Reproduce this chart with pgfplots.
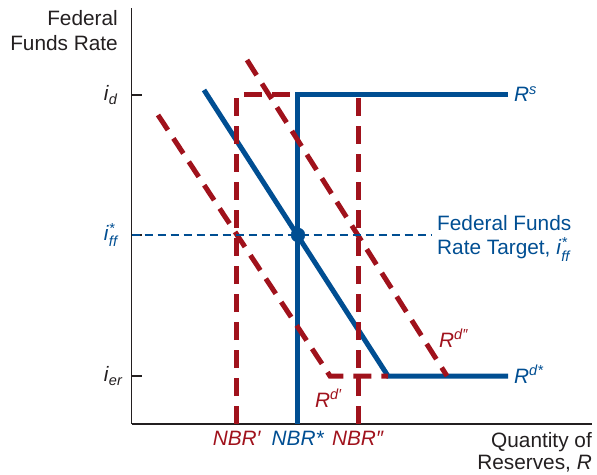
\documentclass[border=0pt]{standalone}
\usepackage{amsmath}
\usepackage{fontspec}
\setmainfont{Liberation Sans}
\usepackage{pgfplots}
\pgfplotsset{compat=1.18}
\definecolor{myblue}{RGB}{0,78,146}
\definecolor{myred}{RGB}{160,18,28}
\definecolor{mytext}{RGB}{35,31,32}
\newcommand\lf{\fontsize{20.8}{24}\selectfont}
\begin{document}
\begin{tikzpicture}
\begin{axis}[
  x=1pt, y=1pt,
  xmin=131.7, xmax=592, ymin=0, ymax=416,
  axis lines=left,
  axis line style={-, line width=1.3pt, color=mytext},
  clip=false,
  tick align=inside,
  major tick length=10.5pt,
  xtick style={draw=none},
  ytick style={line width=1.2pt, color=mytext},
  xtick={237,298,358},
  xticklabels={{\color{myred}\textit{NBR′}},{\color{myblue}\textit{NBR*}},{\color{myred}\textit{NBR″}}},
  xticklabel style={anchor=base, inner sep=0pt, yshift=-21pt, font=\lf},
  ytick={48,189,329},
  yticklabels={{\textit{i}$_{\textit{er}}$},{\color{myblue}\textit{i}$_{\textit{ff}}^{\textit{*}}$},{\textit{i}$_{\textit{d}}$}},
  yticklabel style={anchor=west, inner sep=0pt, xshift=-28pt, font=\lf, color=mytext},
]
% bounding frame of the figure
\path (axis cs:0,-50) rectangle (axis cs:597,424);
% supply and demand (blue)
\addplot[myblue, line width=5pt, line join=miter] coordinates {(298,0) (298,329) (508,329)};
\addplot[myblue, line width=5pt, line join=miter] coordinates {(204,334) (388,48) (508,48)};
% shifted curves (red dashed)
\addplot[myred, line width=5pt, dash pattern=on 18pt off 10pt] coordinates {(237,0) (237,329) (296,329)};
\addplot[myred, line width=5pt, dash pattern=on 18pt off 10pt] coordinates {(358,0) (358,329)};
\addplot[myred, line width=5pt, dash pattern=on 18pt off 10pt] coordinates {(158,309) (330,48) (388,48)};
\addplot[myred, line width=5pt, dash pattern=on 18pt off 10pt] coordinates {(247,364) (447,48)};
% target line
\addplot[myblue, line width=1.2pt, dash pattern=on 8pt off 5pt] coordinates {(131.7,189) (432,189)};
\addplot[only marks, mark=*, mark size=7pt, myblue] coordinates {(298,189)};
% labels
\node[anchor=base east, inner sep=0pt, font=\lf, text=mytext] at (axis cs:118,398) {Federal};
\node[anchor=base east, inner sep=0pt, font=\lf, text=mytext] at (axis cs:118,373) {Funds Rate};
\node[anchor=base west, inner sep=0pt, font=\lf, text=myblue] at (axis cs:514,322) {\textit{R}\textsuperscript{\textit{s}}};
\node[anchor=base west, inner sep=0pt, font=\lf, text=myblue] at (axis cs:514,41) {\textit{R}\textsuperscript{\textit{d*}}};
\node[anchor=base west, inner sep=0pt, font=\lf, text=myblue] at (axis cs:437,193) {Federal Funds};
\node[anchor=base west, inner sep=0pt, font=\lf, text=myblue] at (axis cs:437,169) {Rate Target, \textit{i}$_{\textit{ff}}^{\textit{*}}$};
\node[anchor=base west, inner sep=0pt, font=\lf, text=myred] at (axis cs:439,77) {\textit{R}\textsuperscript{\textit{d″}}};
\node[anchor=base west, inner sep=0pt, font=\lf, text=myred] at (axis cs:315,17) {\textit{R}\textsuperscript{\textit{d′}}};
\node[anchor=base east, inner sep=0pt, font=\lf, text=mytext] at (axis cs:592,-23) {Quantity of};
\node[anchor=base east, inner sep=0pt, font=\lf, text=mytext] at (axis cs:592,-45) {Reserves, \textit{R}};
\end{axis}
\end{tikzpicture}
\end{document}
